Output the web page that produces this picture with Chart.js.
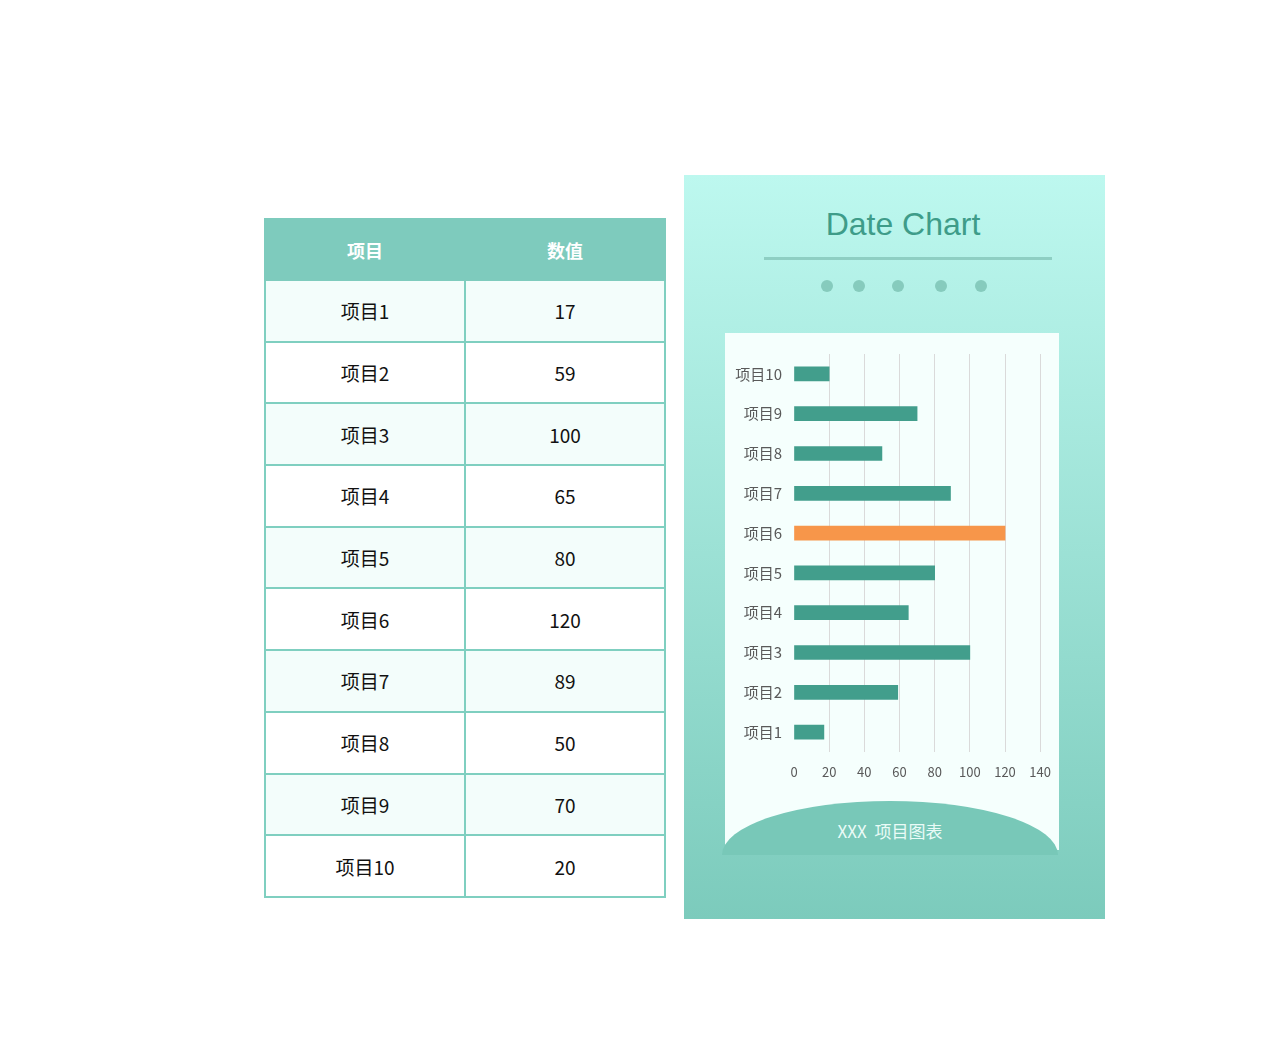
<!DOCTYPE html>
<html>
<head>
<meta charset="utf-8">
<script src="https://cdn.jsdelivr.net/npm/chart.js@4"></script>
<style>
  body { margin: 0; width: 1280px; height: 1055px; background: #fff; position: relative; overflow: hidden; font-family: "Noto Sans CJK SC", "Noto Sans", sans-serif; }
  /* tabela à esquerda */
  #tabela { position: absolute; left: 264px; top: 218px; width: 402px; border-collapse: collapse; table-layout: fixed; }
  #tabela th { background: #7ecbbd; color: #fff; font-size: 18px; font-weight: bold; height: 59px; padding: 0; border: 2px solid #7ecbbd; }
  #tabela td { height: 59.7px; padding: 0; text-align: center; font-size: 19px; color: #111; border: 2px solid #7fcfc0; }
  #tabela tr:nth-child(odd) td { background: #f3fdfb; }
  #tabela tr:nth-child(even) td { background: #ffffff; }
  /* painel do gráfico */
  #painel { position: absolute; left: 684px; top: 175px; width: 421px; height: 744px; background: linear-gradient(to bottom, #bdf8ef, #7ccbbc); }
  #titulo { position: absolute; left: 684px; top: 206px; width: 438px; text-align: center; font-family: "Liberation Sans", Arial, sans-serif; font-size: 32px; color: #3e9c89; }
  #linha { position: absolute; left: 764px; top: 257px; width: 288px; height: 3px; background: #8ecfc3; }
  .ponto { position: absolute; top: 280px; width: 12px; height: 12px; border-radius: 50%; background: #86cbbd; }
  #caixa { position: absolute; left: 725px; top: 333px; width: 334px; height: 517px; background: #f5fffd; }
  #grafico { position: absolute; left: 725px; top: 333px; width: 338px; height: 449px; }
  #elipse { position: absolute; left: 722px; top: 801px; width: 336px; height: 54px; background: #78c8b8; border-radius: 168px 168px 0 0 / 54px 54px 0 0; }
  #rodape { position: absolute; left: 722px; top: 818px; width: 336px; text-align: center; color: #eafbf7; font-size: 17px; }
</style>
</head>
<body>

<table id="tabela">
  <thead><tr><th>项目</th><th>数值</th></tr></thead>
  <tbody id="corpoTabela"></tbody>
</table>

<div id="painel"></div>
<div id="titulo">Date Chart</div>
<div id="linha"></div>
<div class="ponto" style="left:821px"></div>
<div class="ponto" style="left:853px"></div>
<div class="ponto" style="left:892px"></div>
<div class="ponto" style="left:935px"></div>
<div class="ponto" style="left:975px"></div>
<div id="caixa"></div>
<div id="grafico"><canvas id="canvasGrafico"></canvas></div>
<div id="elipse"></div>
<div id="rodape">XXX&nbsp; 项目图表</div>

<script>
// Dados do gráfico
const categorias = ['项目1', '项目2', '项目3', '项目4', '项目5', '项目6', '项目7', '项目8', '项目9', '项目10'];
const valores = [17, 59, 100, 65, 80, 120, 89, 50, 70, 20];
const ticksX = [0, 20, 40, 60, 80, 100, 120, 140];

const corBarra = '#429e8c';
const corDestaque = '#f7964a';

// Preenche a tabela
function montarTabela() {
    const corpo = document.getElementById('corpoTabela');
    categorias.forEach((nome, i) => {
        const tr = document.createElement('tr');
        tr.innerHTML = `<td>${nome}</td><td>${valores[i]}</td>`;
        corpo.appendChild(tr);
    });
}

// Desenha o gráfico de barras horizontais
function montarGrafico() {
    const maior = Math.max(...valores);
    const cores = valores.map(v => v === maior ? corDestaque : corBarra);
    const ctx = document.getElementById('canvasGrafico').getContext('2d');

    new Chart(ctx, {
        type: 'bar',
        data: {
            labels: categorias,
            datasets: [{
                data: valores,
                backgroundColor: cores,
                borderWidth: 0,
                barThickness: 14
            }]
        },
        options: {
            indexAxis: 'y',
            responsive: true,
            maintainAspectRatio: false,
            animation: false,
            layout: { padding: { left: 0, right: 0, top: 19, bottom: 0 } },
            scales: {
                x: {
                    min: 0,
                    max: 140,
                    afterBuildTicks: function(scale) {
                        scale.ticks = ticksX.map(v => ({ value: v }));
                    },
                    afterFit: function(scale) { scale.height = 30; },
                    border: { display: false },
                    grid: {
                        drawTicks: false,
                        color: c => c.index === 0 ? 'rgba(0,0,0,0)' : '#dadada',
                        lineWidth: 1
                    },
                    ticks: {
                        padding: 12,
                        color: '#595959',
                        font: { family: 'Noto Sans CJK SC', size: 13 }
                    }
                },
                y: {
                    reverse: true,
                    afterFit: function(scale) { scale.width = 69; },
                    border: { display: false },
                    grid: { display: false, drawTicks: false },
                    ticks: {
                        padding: 12,
                        color: '#595959',
                        font: { family: 'Noto Sans CJK SC', size: 15 }
                    }
                }
            },
            plugins: {
                legend: { display: false },
                tooltip: { enabled: false }
            }
        }
    });
}

montarTabela();
montarGrafico();
</script>
</body>
</html>
